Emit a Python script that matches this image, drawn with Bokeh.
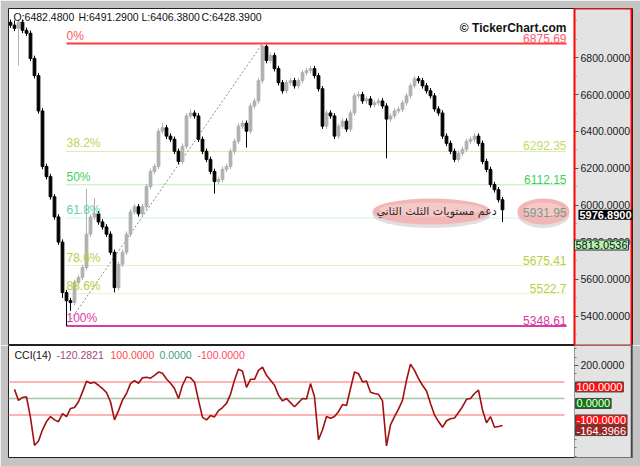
from bokeh.plotting import figure
from bokeh.layouts import column
from bokeh.models import Range1d, FixedTicker, NumeralTickFormatter, Label, ColumnDataSource
from bokeh.embed import file_html
from bokeh.resources import INLINE
from bokeh.core.properties import value

# ---------------- data ----------------
closes = [6975, 6958, 6991, 6947, 6931, 6795, 6702, 6511, 6211, 6156,
          6047, 5938, 5802, 5529, 5485, 5475, 5584, 5611, 5665, 5845,
          5938, 5955, 5911, 5884, 5845, 5747, 5556, 5682, 5747, 5845,
          5965, 5993, 5955, 5993, 6102, 6184, 6211, 6402, 6420, 6375,
          6358, 6293, 6238, 6320, 6484, 6500, 6484, 6358, 6293, 6249,
          6184, 6129, 6140, 6195, 6211, 6293, 6347, 6429, 6445, 6402,
          6538, 6565, 6675, 6860, 6784, 6811, 6740, 6664, 6620, 6664,
          6675, 6647, 6675, 6718, 6729, 6740, 6702, 6631, 6429, 6500,
          6484, 6375, 6429, 6456, 6413, 6500, 6593, 6600, 6565, 6576,
          6544, 6555, 6565, 6538, 6467, 6484, 6511, 6520, 6555, 6593,
          6647, 6685, 6675, 6647, 6620, 6593, 6522, 6500, 6375, 6336,
          6293, 6249, 6282, 6304, 6347, 6358, 6375, 6336, 6238, 6195,
          6113, 6085, 6031, 5976.89]
opens = [6990, 6975, 6958, 6991, 6947, 6931, 6795, 6702, 6511, 6211,
         6156, 6047, 5938, 5802, 5529, 5485, 5475, 5584, 5611, 5665,
         5845, 5938, 5955, 5911, 5884, 5845, 5747, 5556, 5682, 5747,
         5845, 5965, 5993, 5955, 5993, 6102, 6184, 6211, 6402, 6420,
         6375, 6358, 6293, 6238, 6320, 6484, 6500, 6484, 6358, 6293,
         6249, 6184, 6129, 6140, 6195, 6211, 6293, 6347, 6429, 6445,
         6402, 6538, 6565, 6675, 6860, 6784, 6811, 6740, 6664, 6620,
         6664, 6675, 6647, 6675, 6718, 6729, 6740, 6702, 6631, 6429,
         6500, 6484, 6375, 6429, 6456, 6413, 6500, 6593, 6600, 6565,
         6576, 6544, 6555, 6565, 6538, 6467, 6484, 6511, 6520, 6555,
         6593, 6647, 6685, 6675, 6647, 6620, 6593, 6522, 6500, 6375,
         6336, 6293, 6249, 6282, 6304, 6347, 6358, 6375, 6336, 6238,
         6195, 6113, 6085, 6031]
highs = [7005, 7000, 7006, 7006, 6962, 6946, 6810, 6717, 6526, 6226,
         6171, 6062, 5953, 5817, 5544, 5500, 5599, 5626, 5680, 6090,
         5953, 6040, 5970, 5926, 5899, 5860, 5762, 5697, 5762, 5860,
         5980, 6008, 6008, 6008, 6117, 6199, 6226, 6417, 6445, 6435,
         6390, 6373, 6308, 6335, 6499, 6520, 6515, 6499, 6373, 6308,
         6264, 6199, 6155, 6210, 6226, 6308, 6362, 6444, 6460, 6460,
         6553, 6580, 6690, 6875.69, 6870, 6826, 6826, 6755, 6679, 6679,
         6690, 6690, 6690, 6733, 6744, 6755, 6755, 6717, 6646, 6515,
         6515, 6499, 6444, 6471, 6471, 6515, 6608, 6615, 6615, 6591,
         6591, 6570, 6580, 6580, 6553, 6499, 6526, 6535, 6570, 6608,
         6662, 6700, 6700, 6690, 6662, 6635, 6608, 6537, 6515, 6390,
         6351, 6308, 6297, 6319, 6362, 6373, 6390, 6390, 6351, 6253,
         6210, 6128, 6100, 6046]
lows = [6960, 6943, 6756, 6932, 6916, 6780, 6687, 6496, 6196, 6141,
        6032, 5923, 5787, 5500, 5348.61, 5430, 5460, 5569, 5596, 5650,
        5830, 5923, 5896, 5869, 5830, 5732, 5530, 5541, 5667, 5732,
        5830, 5950, 5940, 5940, 5978, 6087, 6169, 6196, 6387, 6360,
        6343, 6278, 6223, 6223, 6305, 6469, 6469, 6343, 6278, 6234,
        6169, 6064, 6114, 6125, 6180, 6196, 6278, 6332, 6414, 6313,
        6387, 6523, 6550, 6660, 6769, 6769, 6725, 6649, 6605, 6605,
        6649, 6632, 6632, 6660, 6703, 6714, 6687, 6616, 6414, 6414,
        6469, 6360, 6360, 6414, 6398, 6398, 6485, 6578, 6550, 6550,
        6529, 6529, 6540, 6523, 6255, 6452, 6469, 6496, 6505, 6540,
        6578, 6632, 6660, 6632, 6605, 6578, 6507, 6485, 6360, 6321,
        6278, 6234, 6234, 6267, 6289, 6332, 6343, 6321, 6223, 6180,
        6098, 6070, 6016, 5911]

cci_values = [55, -12, 6, 10, -116, -285, -258, -190, -140, -110,
              -130, -141, -92, -110, -61, -55, -20, 40, 104, 92,
              98, 80, 60, 35, -20, -130, -74, -10, 30, 90,
              108, 92, 125, 128, 123, 140, 160, 153, 118, 92,
              60, 0, 80, 130, 125, 100, -10, -115, -130, -104,
              -112, -74, -55, -30, 25, 110, 178, 165, 67, 116,
              116, 170, 190, 140, 110, 80, 20, -15, 0, -25,
              -50, -25, 0, -3, 90, 10, -250, -190, -110, -120,
              -110, -80, -37, -43, 60, 160, 150, 100, 105, 37,
              30, 25, -15, -288, -160, -110, -65, -12, 110, 208,
              170, 120, 80, 45, -30, -100, -140, -175, -135, -123,
              -118, -85, -50, -5, 0, 30, 50, -70, -147, -110,
              -175, -170, -164.3966]
cci_first_bar = 1

fib_names = ["0%", "38.2%", "50%", "61.8%", "78.6%", "88.6%", "100%"]
fib_values = [6875.69, 6292.35, 6112.15, 5931.95, 5675.41, 5522.7, 5348.61]
fib_value_text = ["6875.69", "6292.35", "6112.15", "5931.95", "5675.41", "5522.7", "5348.61"]
swing_low_bar = 14
swing_high_bar = 63
fib_end_bar = 139

price_ticks = [5400, 5600, 5800, 6000, 6200, 6400, 6600, 6800]
price_minor = [5300, 5500, 5700, 5900, 6100, 6300, 6500, 6700, 6900, 7000]
cci_levels = [100, 0, -100]
cci_ticks = [200]
cci_minor = [300, 250, 150, 50, -50, -150, -200, -250, -300, -350]

header_parts = ["O:6482.4800", "H:6491.2900", "L:6406.3800", "C:6428.3900"]
cci_header = ["CCI(14)", "-120.2821", "100.0000", "0.0000", "-100.0000"]
last_price = 5976.89
ma_value = 5813.0536
cci_last = -164.3966
note_text = "دعم مستويات الثلث الثاني"

# ---------------- layout helpers (page pixel -> data) ----------------
XMIN, XMAX = -0.5, 155.5      # frame spans page x 8..632
PANEL_X = 141.0               # price-axis panel starts here (page x 574)
PANEL_R = 155.25              # panel right edge (page x 631)
YMIN, YMAX = 5243.0, 7065.0   # frame spans page y 8..345
CMIN, CMAX = -358.0, 321.0    # CCI frame spans page y 345..457
FW, FH, CH = 624, 337, 112


def X(px):
    return XMIN + (px - 8) * (XMAX - XMIN) / FW


def Y(py):
    return YMAX - (py - 8) * (YMAX - YMIN) / FH


def CY(py):
    return CMAX - (py - 345) * (CMAX - CMIN) / CH


FONT = "Liberation Sans"
AXIS_BG = "#e3e3e3"
OUTER = "#c4c4c4"

# ---------------- main price chart ----------------
p = figure(frame_width=FW, frame_height=FH, x_range=Range1d(XMIN, XMAX),
           y_range=Range1d(YMIN, YMAX), output_backend="svg", toolbar_location=None,
           y_axis_location="right", x_axis_location=None,
           min_border_left=8, min_border_top=8, min_border_bottom=0, min_border_right=8,
           border_fill_color=OUTER, background_fill_color="white",
           outline_line_color="#222222", outline_line_width=1)
p.grid.visible = False

# axis panel background with red outline
p.quad(left=[PANEL_X], right=[PANEL_R], bottom=[YMIN], top=[YMAX],
       fill_color=AXIS_BG, line_color="red", line_width=2)

ax = p.yaxis[0]
ax.fixed_location = PANEL_X
ax.ticker = FixedTicker(ticks=price_ticks, minor_ticks=price_minor)
ax.formatter = NumeralTickFormatter(format="0.0000")
ax.major_label_text_font = FONT
ax.major_label_text_font_size = "10.5px"
ax.major_label_text_color = "#1a1a1a"
ax.major_label_standoff = 2
ax.major_tick_out = 4
ax.major_tick_in = 0
ax.minor_tick_out = 2
ax.minor_tick_in = 0
ax.major_tick_line_color = "#555555"
ax.minor_tick_line_color = "#777777"
ax.axis_line_color = None

idx = list(range(len(closes)))
colors = ["#b0b0b0" if c >= o else "#000000" for o, c in zip(opens, closes)]
src = ColumnDataSource(dict(
    x=idx, o=opens, c=closes, h=highs, l=lows, col=colors,
    top=[max(o, c) for o, c in zip(opens, closes)],
    bot=[min(o, c) for o, c in zip(opens, closes)]))

# diagonal swing line
p.line([swing_low_bar, swing_high_bar], [lows[swing_low_bar], highs[swing_high_bar]],
       line_color="#8a8a8a", line_width=1, line_dash="2 2")

# fib levels
fib_line_colors = ["#ff3b3b", "#b5d65a", "#7fdc7f", "#9fe6d6", "#cfe38a", "#cfe38a", "#dd3aa6"]
fib_text_colors = ["#ff5a5a", "#b9d85e", "#3fd05a", "#5fd0b0", "#b8d040", "#b8d040", "#e03aa8"]
fib_val_colors = ["#ff5a6a", "#c2dc68", "#3fd05a", "#7a9a88", "#b8d040", "#b8d040", "#d43aa0"]
fib_widths = [2, 1, 1, 1, 1, 1, 2]
fib_dash = ["solid", "1 1", "1 1", "1 1", "1 1", "1 1", "solid"]
for v, lc, w, d in zip(fib_values, fib_line_colors, fib_widths, fib_dash):
    p.segment(x0=[swing_low_bar], y0=[v], x1=[fib_end_bar], y1=[v],
              line_color=lc, line_width=w, line_dash=d)

# pink note ellipses (shadow + body + highlight)
note_x = [X(431), X(543)]
note_w = [118, 52]
p.ellipse(x=note_x, y=[Y(214)] * 2, width=note_w, height=[27, 27],
          width_units="screen", height_units="screen",
          fill_color="#b0a0a0", fill_alpha=0.35, line_color=None)
p.ellipse(x=note_x, y=[Y(211)] * 2, width=note_w, height=[26, 26],
          width_units="screen", height_units="screen",
          fill_color="#f2b6b6", line_color=None)
p.ellipse(x=note_x, y=[Y(209)] * 2, width=[w - 14 for w in note_w], height=[14, 14],
          width_units="screen", height_units="screen",
          fill_color="#f8d2d2", fill_alpha=0.7, line_color=None)

# candles
p.segment(x0="x", y0="h", x1="x", y1="l", line_color="col", line_width=1, source=src)
p.vbar(x="x", width=0.68, top="top", bottom="bot", fill_color="col", line_color="col",
       line_width=1, source=src)

# fib labels
p.text(x=[swing_low_bar] * len(fib_names), y=fib_values, text=fib_names,
       text_color=fib_text_colors, text_font=value(FONT), text_font_size="12px",
       text_align="left", text_baseline="bottom", y_offset=-1)
p.text(x=[fib_end_bar] * len(fib_names), y=fib_values, text=fib_value_text,
       text_color=fib_val_colors, text_font=value(FONT), text_font_size="12px",
       text_align="right", text_baseline="bottom", y_offset=-1)

# note text
p.text(x=[X(436)], y=[Y(211)], text=[note_text], text_color="#2a2a2a",
       text_font=value("DejaVu Sans"), text_font_size="11px",
       text_align="center", text_baseline="middle")

# header and brand
p.text(x=[X(13), X(78), X(141), X(201)], y=[Y(16)] * 4, text=header_parts,
       text_color="#111111", text_font=value(FONT), text_font_size="10.5px",
       text_align="left", text_baseline="middle")
p.text(x=[X(566)], y=[Y(27)], text=["© TickerChart.com"], text_color="#111111",
       text_font=value(FONT), text_font_size="12px", text_font_style="bold",
       text_align="right", text_baseline="middle")

# axis value boxes
p.add_layout(Label(x=PANEL_X, y=last_price, x_offset=4, text="5976.8900", text_color="white",
                   text_font=FONT, text_font_size="11px", text_font_style="bold",
                   text_baseline="top", background_fill_color="black",
                   padding=1))
p.add_layout(Label(x=PANEL_X, y=ma_value, x_offset=0, text="5813.0536", text_color="#111111",
                   text_font=FONT, text_font_size="11px",
                   text_baseline="top", background_fill_color="#b4f2b4",
                   border_line_color="#333333", padding=1))

# ---------------- CCI panel ----------------
p2 = figure(frame_width=FW, frame_height=CH, x_range=p.x_range,
            y_range=Range1d(CMIN, CMAX), output_backend="svg", toolbar_location=None,
            y_axis_location="right", x_axis_location=None,
            min_border_left=8, min_border_top=0, min_border_bottom=9, min_border_right=8,
            border_fill_color=OUTER, background_fill_color="white",
            outline_line_color="#222222", outline_line_width=1)
p2.grid.visible = False

p2.quad(left=[PANEL_X], right=[XMAX], bottom=[CMIN], top=[CMAX],
        fill_color=AXIS_BG, line_color="#9a9a9a", line_width=1)
p2.segment(x0=[PANEL_R], y0=[CMIN], x1=[PANEL_R], y1=[CMAX], line_color="#444444", line_width=1.5)

cax = p2.yaxis[0]
cax.fixed_location = PANEL_X
cax.ticker = FixedTicker(ticks=cci_ticks, minor_ticks=cci_minor)
cax.formatter = NumeralTickFormatter(format="0.0000")
cax.major_label_text_font = FONT
cax.major_label_text_font_size = "10.5px"
cax.major_label_text_color = "#1a1a1a"
cax.major_label_standoff = 2
cax.major_tick_out = 4
cax.major_tick_in = 0
cax.minor_tick_out = 2
cax.minor_tick_in = 0
cax.major_tick_line_color = "#555555"
cax.minor_tick_line_color = "#777777"
cax.axis_line_color = None

level_colors = ["#ff9a9a", "#a8c4a8", "#ff9a9a"]
for lv, lc in zip(cci_levels, level_colors):
    p2.segment(x0=[XMIN], y0=[lv], x1=[138.5], y1=[lv], line_color=lc, line_width=1.5)

cci_x = list(range(cci_first_bar, cci_first_bar + len(cci_values)))
p2.line(cci_x, cci_values, line_color="#a01010", line_width=1.6)

p2.text(x=[X(14), X(56), X(110), X(159), X(197)], y=[CY(354)] * 5, text=cci_header,
        text_color=["#111111", "#a04a7a", "#ff4a4a", "#3fa07f", "#ff4a5a"],
        text_font=value(FONT), text_font_size="10.5px",
        text_align="left", text_baseline="middle")

box_specs = [(100, "100.0000", "#ff1010"), (0, "0.0000", "#0a7a0a"),
             (-100, "-100.0000", "#ff1010"), (cci_last, "-164.3966", "#a02222")]
for yv, txt, bg in box_specs:
    p2.add_layout(Label(x=PANEL_X, y=yv, x_offset=1, text=txt, text_color="white",
                        text_font=FONT, text_font_size="11px",
                        text_baseline="top", background_fill_color=bg,
                        border_line_color="#444444", padding=1))

layout = column(p, p2, spacing=0)
open("out.html", "w").write(file_html(layout, INLINE))
